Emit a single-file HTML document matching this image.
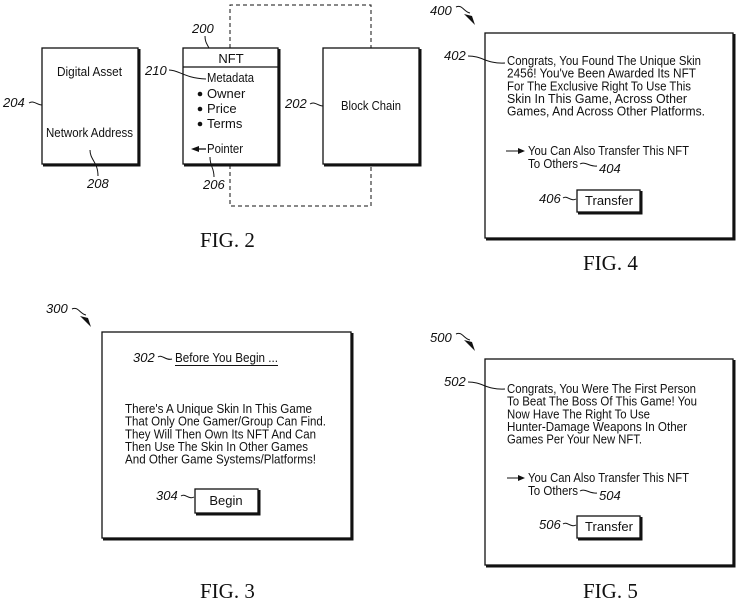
<!DOCTYPE html>
<html><head><meta charset="utf-8"><style>
html,body{margin:0;padding:0;background:#fff;}
svg{display:block;}
text{font-family:"Liberation Sans",sans-serif;fill:#111;}
.t{font-size:13px;}
.n{font-size:13px;font-style:italic;}
.f{font-family:"Liberation Serif",serif;font-size:21px;}
</style></head><body>
<svg width="740" height="604" viewBox="0 0 740 604" xmlns="http://www.w3.org/2000/svg">
<g fill="none" stroke="#111" stroke-width="1.3">
<rect x="42" y="48" width="96" height="116"/>
<path d="M43 165.5H139.5V49" stroke-width="2"/>
<rect x="183" y="48" width="95" height="116"/>
<path d="M184 165.5H279.5V49" stroke-width="2"/>
<line x1="183" y1="67" x2="278" y2="67"/>
<rect x="323" y="48" width="96" height="116"/>
<path d="M324 165.5H420.5V49" stroke-width="2"/>
<path d="M230 48V5H371V48M230 165V206H371V165" stroke-dasharray="4,3" stroke-width="1"/>
<path d="M29 103c5-3 8 2 13 2" stroke-width="1"/>
<path d="M90 150c0 10 8 12 8 26" stroke-width="1"/>
<path d="M169 70c10 0 15 8 37 9" stroke-width="1"/>
<path d="M205 36c0 6 2 8 4 12" stroke-width="1"/>
<path d="M210 157c0 10 4 10 4 20" stroke-width="1"/>
<path d="M310 104c5-3 8 2 13 2" stroke-width="1"/>
<rect x="485" y="33" width="248" height="205"/>
<path d="M486 239.5H734.5V34" stroke-width="2"/>
<rect x="577" y="190" width="63" height="22"/>
<path d="M578 213.5H641.5V191" stroke-width="2"/>
<path d="M456 7c6-3 8 5 14 6" stroke-width="1"/>
<path d="M468 56c15 0 18 8 37 7" stroke-width="1"/>
<path d="M563 198c4-3 8 4 13 1" stroke-width="1"/>
<path d="M580 164c5-3 10 3 17 2" stroke-width="1"/>
<line x1="506" y1="151" x2="520" y2="151" stroke-width="1"/>
<rect x="485" y="359" width="248" height="206"/>
<path d="M486 566.5H734.5V360" stroke-width="2"/>
<rect x="577" y="516" width="63" height="22"/>
<path d="M578 539.5H641.5V517" stroke-width="2"/>
<path d="M456 334c6-3 8 5 14 6" stroke-width="1"/>
<path d="M468 382c15 0 18 8 37 7" stroke-width="1"/>
<path d="M563 524c4-3 8 4 13 1" stroke-width="1"/>
<path d="M580 491c5-3 10 3 17 2" stroke-width="1"/>
<line x1="507" y1="478" x2="520" y2="478" stroke-width="1"/>
<rect x="102" y="332" width="249" height="206"/>
<path d="M103 539.5H352.5V333" stroke-width="2"/>
<rect x="195" y="489" width="63" height="24"/>
<path d="M196 514.5H259.5V490" stroke-width="2"/>
<path d="M72 309c6-3 8 5 14 6" stroke-width="1"/>
<path d="M158 357c4-3 8 4 14 2" stroke-width="1"/>
<path d="M181 496c4-3 8 4 13 1" stroke-width="1"/>
<line x1="175" y1="365.5" x2="278" y2="365.5" stroke-width="1"/>
</g>
<g fill="#111">
<path d="M464 14l11 11-3-9z M464 340l11 11-3-9z M80 316l11 11-3-9z"/>
<path d="M525 151l-7-3v6z M525 478l-7-3v6z"/>
<path d="M191 149l8-3v6z"/><line x1="196" y1="149" x2="206" y2="149" stroke="#111" stroke-width="1.3"/>
<circle cx="200" cy="94" r="2.3"/><circle cx="200" cy="109" r="2.3"/><circle cx="200" cy="124" r="2.3"/>
</g>
<text class="t" x="57" y="76" textLength="65" lengthAdjust="spacingAndGlyphs">Digital Asset</text>
<text class="t" x="46" y="137" textLength="87" lengthAdjust="spacingAndGlyphs">Network Address</text>
<text class="t" x="231" y="63" text-anchor="middle">NFT</text>
<text class="t" x="207" y="82" textLength="47" lengthAdjust="spacingAndGlyphs">Metadata</text>
<text class="t" x="207" y="98">Owner</text>
<text class="t" x="207" y="113">Price</text>
<text class="t" x="207" y="128">Terms</text>
<text class="t" x="207" y="153" textLength="36" lengthAdjust="spacingAndGlyphs">Pointer</text>
<text class="t" x="341" y="110" textLength="60" lengthAdjust="spacingAndGlyphs">Block Chain</text>
<text class="n" x="3" y="107">204</text>
<text class="n" x="87" y="188">208</text>
<text class="n" x="145" y="75">210</text>
<text class="n" x="192" y="33">200</text>
<text class="n" x="203" y="189">206</text>
<text class="n" x="285" y="108">202</text>
<text class="f" x="200" y="247">FIG. 2</text>
<text class="n" x="430" y="15">400</text>
<text class="n" x="444" y="60">402</text>
<text class="t" x="507" y="65" textLength="194" lengthAdjust="spacingAndGlyphs">Congrats, You Found The Unique Skin</text>
<text class="t" x="507" y="77.7" textLength="189" lengthAdjust="spacingAndGlyphs">2456! You've Been Awarded Its NFT</text>
<text class="t" x="507" y="90.3" textLength="184" lengthAdjust="spacingAndGlyphs">For The Exclusive Right To Use This</text>
<text class="t" x="507" y="103" textLength="180" lengthAdjust="spacingAndGlyphs">Skin In This Game, Across Other</text>
<text class="t" x="507" y="115.7" textLength="198" lengthAdjust="spacingAndGlyphs">Games, And Across Other Platforms.</text>
<text class="t" x="528" y="155" textLength="161" lengthAdjust="spacingAndGlyphs">You Can Also Transfer This NFT</text>
<text class="t" x="528" y="168" textLength="50" lengthAdjust="spacingAndGlyphs">To Others</text>
<text class="n" x="599" y="173">404</text>
<text class="n" x="539" y="203">406</text>
<text class="t" x="609" y="205" text-anchor="middle">Transfer</text>
<text class="f" x="583" y="270">FIG. 4</text>
<text class="n" x="46" y="313">300</text>
<text class="n" x="133" y="362">302</text>
<text class="t" x="175" y="362" textLength="103" lengthAdjust="spacingAndGlyphs">Before You Begin ...</text>
<text class="t" x="125" y="413" textLength="187" lengthAdjust="spacingAndGlyphs">There's A Unique Skin In This Game</text>
<text class="t" x="125" y="425.7" textLength="201" lengthAdjust="spacingAndGlyphs">That Only One Gamer/Group Can Find.</text>
<text class="t" x="125" y="438.3" textLength="191" lengthAdjust="spacingAndGlyphs">They Will Then Own Its NFT And Can</text>
<text class="t" x="125" y="451" textLength="183" lengthAdjust="spacingAndGlyphs">Then Use The Skin In Other Games</text>
<text class="t" x="125" y="463.7" textLength="191" lengthAdjust="spacingAndGlyphs">And Other Game Systems/Platforms!</text>
<text class="n" x="156" y="500">304</text>
<text class="t" x="226" y="505" text-anchor="middle">Begin</text>
<text class="f" x="200" y="598">FIG. 3</text>
<text class="n" x="430" y="342">500</text>
<text class="n" x="444" y="386">502</text>
<text class="t" x="507" y="393" textLength="189" lengthAdjust="spacingAndGlyphs">Congrats, You Were The First Person</text>
<text class="t" x="507" y="405.7" textLength="190" lengthAdjust="spacingAndGlyphs">To Beat The Boss Of This Game! You</text>
<text class="t" x="507" y="418.3" textLength="143" lengthAdjust="spacingAndGlyphs">Now Have The Right To Use</text>
<text class="t" x="507" y="431" textLength="180" lengthAdjust="spacingAndGlyphs">Hunter-Damage Weapons In Other</text>
<text class="t" x="507" y="443.7" textLength="135" lengthAdjust="spacingAndGlyphs">Games Per Your New NFT.</text>
<text class="t" x="528" y="482" textLength="161" lengthAdjust="spacingAndGlyphs">You Can Also Transfer This NFT</text>
<text class="t" x="528" y="495" textLength="50" lengthAdjust="spacingAndGlyphs">To Others</text>
<text class="n" x="599" y="500">504</text>
<text class="n" x="539" y="529">506</text>
<text class="t" x="609" y="531" text-anchor="middle">Transfer</text>
<text class="f" x="583" y="598">FIG. 5</text>
</svg>
</body></html>
